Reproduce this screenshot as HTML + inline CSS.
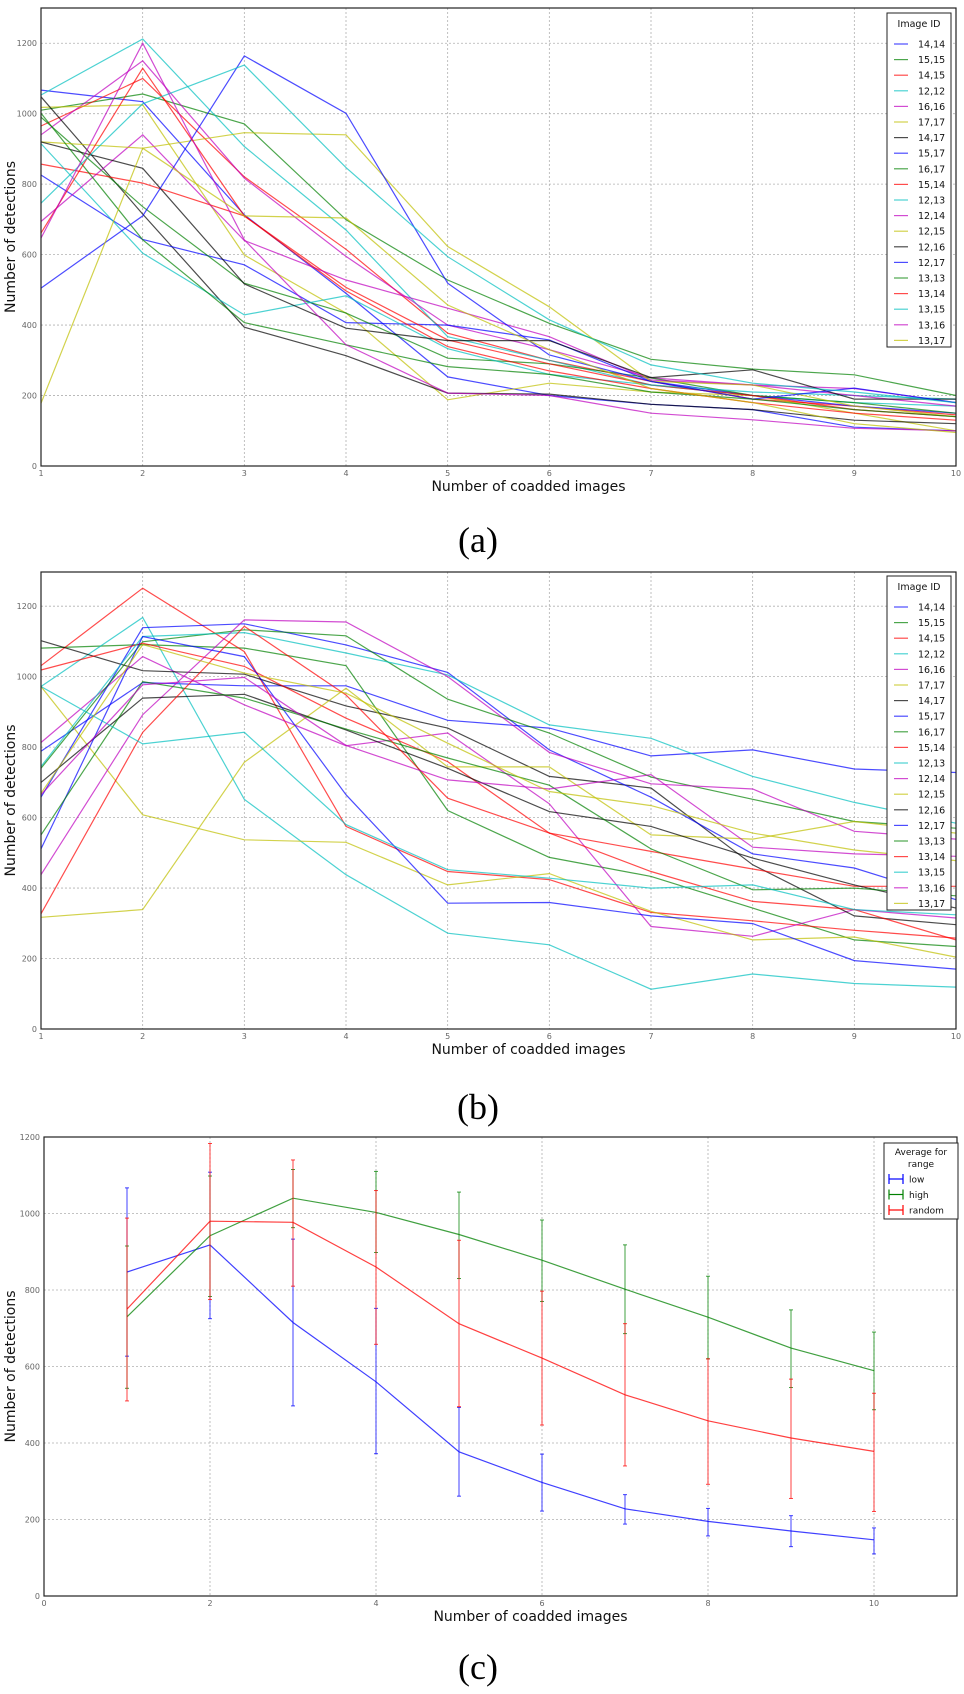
<!DOCTYPE html>
<html><head><meta charset="utf-8">
<style>
html,body{margin:0;padding:0;background:#fff;}
svg{display:block;font-family:"DejaVu Sans","Liberation Sans",sans-serif;}
</style></head>
<body>
<svg id="fig" width="964" height="1694" viewBox="0 0 964 1694" xmlns="http://www.w3.org/2000/svg">
<rect x="0" y="0" width="964" height="1694" fill="#fff"/>
</svg>
<script>
// ---------- data ----------
const labels = ["14,14","15,15","14,15","12,12","16,16","17,17","14,17","15,17","16,17","15,14","12,13","12,14","12,15","12,16","12,17","13,13","13,14","13,15","13,16","13,17"];
const colorCycle = ["#0000ff","#008000","#ff0000","#00bfbf","#bf00bf","#bfbf00","#000000"];
const xsA = [1,2,3,4,5,6,7,8,9,10];
const yTicksAB = [0,200,400,600,800,1000,1200];
const xTicksAB = [1,2,3,4,5,6,7,8,9,10];
// Panel (a) series, in legend order
const a_14_14 = [1067,1034,713,490,253,200,175,160,110,100];
const a_15_15 = [1010,1056,971,699,528,405,303,275,259,200];
const a_14_15 = [965,1100,821,615,377,300,240,190,170,145];
const a_12_12 = [1053,1212,907,670,367,300,230,200,180,170];
const a_16_16 = [940,1150,817,595,400,330,250,230,220,180];
const a_17_17 = [1018,1025,599,434,188,235,210,200,150,100];
const a_14_17 = [1048,715,394,313,207,204,175,160,130,120];
const a_15_17 = [826,643,571,407,400,358,240,200,170,150];
const a_16_17 = [990,736,519,434,306,290,250,200,180,150];
const a_15_14 = [857,803,710,507,358,290,230,200,160,140];
const a_12_13 = [915,604,429,483,333,260,230,210,200,190];
const a_12_14 = [694,940,640,528,448,367,244,230,200,170];
const a_12_15 = [920,902,946,940,623,452,240,230,170,140];
const a_12_16 = [920,845,517,391,356,356,251,273,190,190];
const a_12_17 = [505,710,1164,1001,519,315,240,190,221,180];
const a_13_13 = [1001,642,407,344,282,260,210,190,160,140];
const a_13_14 = [661,1129,710,497,339,270,220,180,150,130];
const a_13_15 = [746,1028,1138,847,594,415,287,235,210,180];
const a_13_16 = [647,1200,642,344,207,200,150,131,107,100];
const a_13_17 = [178,902,710,704,457,330,220,180,120,95];
const seriesA = [a_14_14,a_15_15,a_14_15,a_12_12,a_16_16,a_17_17,a_14_17,a_15_17,a_16_17,a_15_14,a_12_13,a_12_14,a_12_15,a_12_16,a_12_17,a_13_13,a_13_14,a_13_15,a_13_16,a_13_17];
// Panel (b) series
const b_14_14 = [788,983,974,974,876,854,775,792,738,728];
const b_15_15 = [1081,1091,1081,1031,620,487,433,343,253,234];
const b_14_15 = [1031,1251,1071,575,447,424,331,307,280,258];
const b_12_12 = [972,1168,652,438,272,239,113,156,129,119];
const b_16_16 = [813,1057,920,804,840,639,291,263,339,315];
const b_17_17 = [972,608,537,530,409,441,334,253,261,204];
const b_14_17 = [1102,1017,1007,917,854,717,684,466,321,296];
const b_15_17 = [658,1139,1150,1090,1012,792,658,497,457,367];
const b_16_17 = [740,1099,1133,1116,936,840,715,652,589,570];
const b_15_14 = [1019,1095,1029,882,759,556,504,454,405,405];
const b_12_13 = [745,1114,1125,1067,1005,863,825,717,643,584];
const b_12_14 = [438,892,1161,1155,1000,785,696,681,561,539];
const b_12_15 = [317,339,757,967,744,744,551,539,589,556];
const b_12_16 = [700,939,950,849,740,617,575,485,409,343];
const b_12_17 = [511,1114,1057,665,357,359,321,299,194,170];
const b_13_13 = [551,986,939,851,769,692,511,395,400,378];
const b_13_14 = [327,842,1143,948,655,556,447,362,339,253];
const b_13_15 = [972,809,842,580,452,428,400,409,339,324];
const b_13_16 = [665,977,998,805,707,681,722,516,497,490];
const b_13_17 = [669,1091,1010,953,811,674,634,556,508,478];
const seriesB = [b_14_14,b_15_15,b_14_15,b_12_12,b_16_16,b_17_17,b_14_17,b_15_17,b_16_17,b_15_14,b_12_13,b_12_14,b_12_15,b_12_16,b_12_17,b_13_13,b_13_14,b_13_15,b_13_16,b_13_17];
// Panel (c)
const xsC = [1,2,3,4,5,6,7,8,9,10];
const xTicksC = [0,2,4,6,8,10];
const yTicksC = [0,200,400,600,800,1000,1200];
const lowMean = [847,918,715,560,377,297,228,195,170,147];
const lowLo   = [627,725,497,372,261,222,188,157,129,110];
const lowHi   = [1067,1108,933,752,493,371,265,229,210,178];
const highMean = [730,942,1040,1003,945,878,802,729,648,589];
const highLo   = [543,783,963,898,830,770,686,620,545,487];
const highHi   = [915,1098,1115,1110,1056,983,918,836,748,690];
const randMean = [750,980,977,860,712,622,526,458,413,378];
const randLo   = [510,775,810,658,495,447,340,292,255,221];
const randHi   = [988,1183,1140,1060,930,797,712,620,567,530];

// ---------- helpers ----------
const NS = "http://www.w3.org/2000/svg";
const svg = document.getElementById("fig");
function mk(tag, attrs, parent){
  const e = document.createElementNS(NS, tag);
  for (const k in attrs) e.setAttribute(k, attrs[k]);
  (parent||svg).appendChild(e);
  return e;
}
function panel(cfg){
  const g = mk("g", {});
  
  
  const X = v => cfg.x0 + (v - cfg.xmin) / (cfg.xmax - cfg.xmin) * (cfg.x1 - cfg.x0);
  const Y = v => cfg.y0 - (v - cfg.ymin) / (cfg.ymax - cfg.ymin) * (cfg.y0 - cfg.y1);
  // grid
  cfg.xticks.forEach(t => {
    const l = mk("line", {x1:X(t), x2:X(t), y1:cfg.y1, y2:cfg.y0, stroke:"#b0b0b0", "stroke-width":0.8, "stroke-dasharray":"2,2"}, g);
    
    
    const tx = mk("text", {x:X(t), y:cfg.y0+10, "font-size":8, fill:"#666", "text-anchor":"middle"}, g);
    tx.textContent = t;
    
    
  });
  cfg.yticks.forEach(t => {
    const l = mk("line", {x1:cfg.x0, x2:cfg.x1, y1:Y(t), y2:Y(t), stroke:"#b0b0b0", "stroke-width":0.8, "stroke-dasharray":"2,2"}, g);
    
    
    const tx = mk("text", {x:cfg.x0-4, y:Y(t)+3, "font-size":8, fill:"#666", "text-anchor":"end"}, g);
    tx.textContent = t;
    
    
  });
  // titles
  const xt = mk("text", {x:(cfg.x0+cfg.x1)/2+30, y:cfg.y0+25, "font-size":14, fill:"#111", "text-anchor":"middle"}, g);
  xt.textContent = "Number of coadded images";
  
  
  const cy = (cfg.y0+cfg.y1)/2;
  const yt = mk("text", {x:15, y:cy, "font-size":14, fill:"#111", "text-anchor":"middle", transform:`rotate(-90 15 ${cy})`}, g);
  yt.textContent = "Number of detections";
  
  
  const cap = mk("text", {x:478, y:cfg.capY, "font-size":36, fill:"#000", "text-anchor":"middle", "font-family":"Liberation Serif, serif"}, g);
  cap.textContent = cfg.caption;
  
  
  return {g, X, Y};
}
function frame(g, cfg){
  const r = mk("rect", {x:cfg.x0, y:cfg.y1, width:cfg.x1-cfg.x0, height:cfg.y0-cfg.y1, fill:"none", stroke:"#222", "stroke-width":1.2}, g);
  
  
}
function linePanel(cfg, series){
  const p = panel(cfg);
  series.forEach((s, i) => {
    const d = s.map((v, j) => (j ? "L" : "M") + p.X(xsA[j]).toFixed(1) + "," + p.Y(v).toFixed(1)).join(" ");
    const path = mk("path", {d, fill:"none", stroke:colorCycle[i % 7], "stroke-width":1.2, "stroke-opacity":0.7}, p.g);
    
    
  });
  frame(p.g, cfg);
  // legend
  const lg = mk("g", {}, p.g);
  
  
  const lx = 887, ly = cfg.legY;
  mk("rect", {x:lx, y:ly, width:64, height:334, fill:"#fff", stroke:"#222", "stroke-width":1}, lg);
  const tt = mk("text", {x:lx+32, y:ly+14, "font-size":9.5, fill:"#111", "text-anchor":"middle"}, lg);
  tt.textContent = "Image ID";
  
  
  labels.forEach((lab, i) => {
    const yy = ly + 31 + i * 15.6;
    const e = mk("g", {}, lg);
    
    
    mk("line", {x1:lx+7, x2:lx+21, y1:yy, y2:yy, stroke:colorCycle[i % 7], "stroke-width":1.2, "stroke-opacity":0.7}, e);
    const t = mk("text", {x:lx+31, y:yy+3.5, "font-size":9.5, fill:"#111"}, e);
    t.textContent = lab;
  });
}
linePanel({name:"panel-a", x0:41, x1:956, y0:466, y1:8, xmin:1, xmax:10, ymin:0, ymax:1300, xticks:xTicksAB, yticks:yTicksAB, capY:552, caption:"(a)", legY:13}, seriesA);
linePanel({name:"panel-b", x0:41, x1:956, y0:1029, y1:572, xmin:1, xmax:10, ymin:0, ymax:1297, xticks:xTicksAB, yticks:yTicksAB, capY:1119, caption:"(b)", legY:576}, seriesB);

// panel c
const cfgC = {name:"panel-c", x0:44, x1:957, y0:1596, y1:1137, xmin:0, xmax:11, ymin:0, ymax:1200, xticks:xTicksC, yticks:yTicksC, capY:1679, caption:"(c)"};
const pc = panel(cfgC);
const cSeries = [[lowMean,lowLo,lowHi,"#0000ff","low"],[highMean,highLo,highHi,"#008000","high"],[randMean,randLo,randHi,"#ff0000","random"]];
cSeries.forEach(([m, lo, hi, col, nm]) => {
  const d = m.map((v, j) => (j ? "L" : "M") + pc.X(xsC[j]).toFixed(1) + "," + pc.Y(v).toFixed(1)).join(" ");
  const path = mk("path", {d, fill:"none", stroke:col, "stroke-width":1.2, "stroke-opacity":0.75}, pc.g);
  
  
  m.forEach((v, j) => {
    const x = pc.X(xsC[j]);
    const eb = mk("g", {stroke:col, "stroke-width":1, "stroke-opacity":0.75}, pc.g);
    
    
    mk("line", {x1:x, x2:x, y1:pc.Y(lo[j]), y2:pc.Y(hi[j])}, eb);
    mk("line", {x1:x-2, x2:x+2, y1:pc.Y(lo[j]), y2:pc.Y(lo[j])}, eb);
    mk("line", {x1:x-2, x2:x+2, y1:pc.Y(hi[j]), y2:pc.Y(hi[j])}, eb);
  });
});
frame(pc.g, cfgC);
const lgc = mk("g", {}, pc.g);


mk("rect", {x:884, y:1143, width:74, height:76, fill:"#fff", stroke:"#222", "stroke-width":1}, lgc);
const t1 = mk("text", {x:921, y:1155, "font-size":9, fill:"#111", "text-anchor":"middle"}, lgc); t1.textContent = "Average for";
const t2 = mk("text", {x:921, y:1167, "font-size":9, fill:"#111", "text-anchor":"middle"}, lgc); t2.textContent = "range";


cSeries.forEach(([m, lo, hi, col, nm], i) => {
  const yy = 1179 + i * 15.5;
  const e = mk("g", {stroke:col, "stroke-width":1.2}, lgc);
  
  
  mk("line", {x1:889, x2:903, y1:yy, y2:yy}, e);
  mk("line", {x1:889, x2:889, y1:yy-5, y2:yy+5}, e);
  mk("line", {x1:903, x2:903, y1:yy-5, y2:yy+5}, e);
  const t = mk("text", {x:909, y:yy+3.5, "font-size":9, fill:"#111", stroke:"none"}, lgc);
  t.textContent = nm;
});
</script>
</body></html>
